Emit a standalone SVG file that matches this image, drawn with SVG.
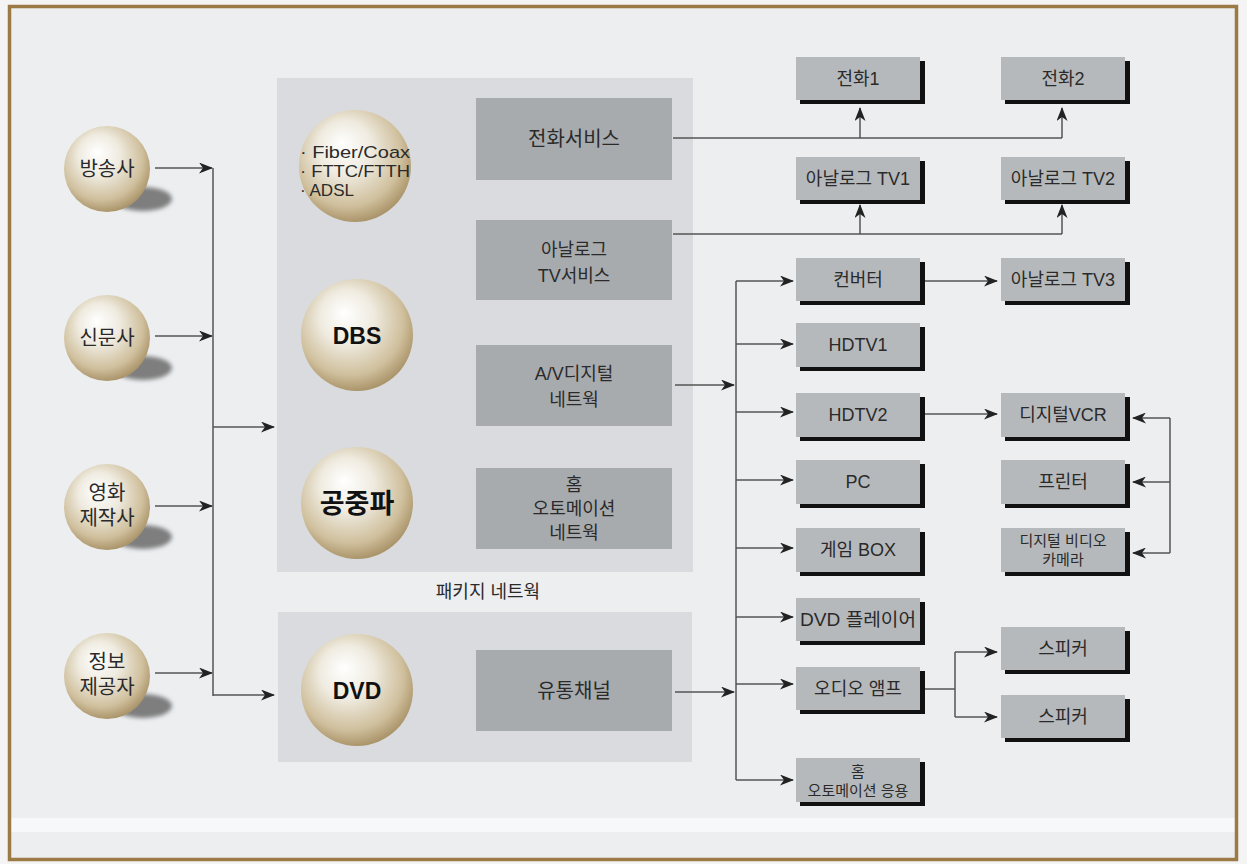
<svg xmlns="http://www.w3.org/2000/svg" width="1247" height="864" viewBox="0 0 1247 864">
<defs>
<radialGradient id="sph" cx="45%" cy="40%" r="60%" fx="38%" fy="30%">
<stop offset="0" stop-color="#ffffff"/>
<stop offset="0.4" stop-color="#efebe0"/>
<stop offset="0.8" stop-color="#cfbf9c"/>
<stop offset="1" stop-color="#ab956b"/>
</radialGradient>
<filter id="blur" x="-30%" y="-50%" width="160%" height="200%"><feGaussianBlur stdDeviation="2"/></filter>
<marker id="ah" viewBox="0 0 14 11" refX="13" refY="5.5" markerWidth="14" markerHeight="11" markerUnits="userSpaceOnUse" orient="auto">
<path d="M0,0 L14,5.5 L0,11 L4,5.5 z" fill="#222"/>
</marker>
<style>
.bg{fill:#eceef0}
.frame{fill:none;stroke:#9b7a45;stroke-width:3.5}
.panel{fill:#d9dbde}
.pbox{fill:#a8abae}
.sbox{fill:#b6b9bc}
.shadow{fill:#111}
.ln{fill:none;stroke:#555;stroke-width:1.5}
.arr{fill:none;stroke:#555;stroke-width:1.5;marker-end:url(#ah)}
.t{font-family:"Liberation Sans","Noto Sans CJK KR",sans-serif;fill:#2a2a2a;text-anchor:middle}
.s17{font-size:17px}
.s18{font-size:18px}
.s15{font-size:15px}
.s20{font-size:20px}
.b{font-weight:bold;fill:#111}
.sph{fill:url(#sph)}
.shd{fill:#7e7e7e;filter:url(#blur)}
</style>
</defs>
<rect x="0" y="0" width="1247" height="864" fill="#f4f4f4"/>
<rect class="bg" x="10" y="7" width="1226" height="852"/>
<rect x="10" y="818" width="1226" height="14" fill="#f7f8f9"/>
<rect class="frame" x="9.5" y="6.5" width="1227" height="853"/>

<g id="panel-package">
<rect class="panel" x="277" y="78" width="416" height="494"/>
<text class="t s18" x="488" y="598">패키지 네트웍</text>
</g>
<g id="panel-dvd">
<rect class="panel" x="278" y="612" width="414" height="150"/>
</g>

<g id="connectors">
<line class="arr" x1="155" y1="168" x2="212" y2="168"/>
<line class="arr" x1="155" y1="336" x2="212" y2="336"/>
<line class="arr" x1="155" y1="506" x2="212" y2="506"/>
<line class="arr" x1="155" y1="673" x2="212" y2="673"/>
<line class="ln" x1="213" y1="168" x2="213" y2="696"/>
<line class="arr" x1="213" y1="427" x2="274" y2="427"/>
<line class="arr" x1="213" y1="695" x2="274" y2="695"/>

<polyline class="ln" points="673,138 1062,138"/>
<line class="arr" x1="860" y1="138" x2="860" y2="108"/>
<line class="arr" x1="1062" y1="138" x2="1062" y2="108"/>
<polyline class="ln" points="673,234 1062,234"/>
<line class="arr" x1="860" y1="234" x2="860" y2="205"/>
<line class="arr" x1="1062" y1="234" x2="1062" y2="205"/>

<line class="arr" x1="675" y1="385" x2="734" y2="385"/>
<line class="arr" x1="675" y1="692" x2="734" y2="692"/>
<line class="ln" x1="736" y1="281" x2="736" y2="780"/>
<line class="arr" x1="736" y1="281" x2="793" y2="281"/>
<line class="arr" x1="736" y1="344" x2="793" y2="344"/>
<line class="arr" x1="736" y1="412" x2="793" y2="412"/>
<line class="arr" x1="736" y1="480" x2="793" y2="480"/>
<line class="arr" x1="736" y1="548" x2="793" y2="548"/>
<line class="arr" x1="736" y1="617" x2="793" y2="617"/>
<line class="arr" x1="736" y1="684" x2="793" y2="684"/>
<line class="arr" x1="736" y1="780" x2="793" y2="780"/>

<line class="arr" x1="925" y1="281" x2="997" y2="281"/>
<line class="arr" x1="925" y1="414" x2="997" y2="414"/>

<polyline class="ln" points="925,689 955,689"/>
<line class="ln" x1="955" y1="652" x2="955" y2="717"/>
<line class="arr" x1="955" y1="652" x2="997" y2="652"/>
<line class="arr" x1="955" y1="717" x2="997" y2="717"/>

<line class="ln" x1="1170" y1="418" x2="1170" y2="553"/>
<line class="arr" x1="1170" y1="418" x2="1133" y2="418"/>
<line class="arr" x1="1170" y1="482" x2="1133" y2="482"/>
<line class="arr" x1="1170" y1="553" x2="1133" y2="553"/>
</g>

<g id="src-broadcast">
<ellipse class="shd" cx="143" cy="199" rx="29" ry="12"/>
<circle class="sph" cx="107" cy="169" r="43"/>
<text class="t s20" x="107" y="176">방송사</text>
</g>
<g id="src-newspaper">
<ellipse class="shd" cx="143" cy="368" rx="29" ry="12"/>
<circle class="sph" cx="107" cy="338" r="43"/>
<text class="t s20" x="107" y="345">신문사</text>
</g>
<g id="src-film">
<ellipse class="shd" cx="143" cy="537" rx="29" ry="12"/>
<circle class="sph" cx="107" cy="507" r="43"/>
<text class="t s20" x="107" y="500">영화</text>
<text class="t s20" x="107" y="525">제작사</text>
</g>
<g id="src-info">
<ellipse class="shd" cx="143" cy="706" rx="29" ry="12"/>
<circle class="sph" cx="107" cy="676" r="43"/>
<text class="t s20" x="107" y="669">정보</text>
<text class="t s20" x="107" y="694">제공자</text>
</g>

<g id="net-fiber">
<circle class="sph" cx="355" cy="166" r="56"/>
<text class="t" x="300" y="158" style="text-anchor:start;font-size:17px" textLength="110" lengthAdjust="spacingAndGlyphs">· Fiber/Coax</text>
<text class="t" x="300" y="177" style="text-anchor:start;font-size:17px" textLength="110" lengthAdjust="spacingAndGlyphs">· FTTC/FTTH</text>
<text class="t" x="300" y="196" style="text-anchor:start;font-size:17px" textLength="54" lengthAdjust="spacingAndGlyphs">· ADSL</text>
</g>
<g id="net-dbs">
<circle class="sph" cx="357" cy="335" r="56"/>
<text class="t b" x="357" y="344" font-size="23">DBS</text>
</g>
<g id="net-air">
<circle class="sph" cx="357" cy="503" r="56"/>
<text class="t b" x="357" y="513" font-size="27">공중파</text>
</g>
<g id="net-dvd">
<circle class="sph" cx="357" cy="690" r="56"/>
<text class="t b" x="357" y="699" font-size="23">DVD</text>
</g>

<g id="svc-phone">
<rect class="pbox" x="476" y="98" width="196" height="82"/>
<text class="t s20" x="574" y="146">전화서비스</text>
</g>
<g id="svc-analog">
<rect class="pbox" x="476" y="220" width="196" height="80"/>
<text class="t s18" x="574" y="256">아날로그</text>
<text class="t s18" x="574" y="282">TV서비스</text>
</g>
<g id="svc-av">
<rect class="pbox" x="476" y="345" width="196" height="81"/>
<text class="t s18" x="574" y="380">A/V디지털</text>
<text class="t s18" x="574" y="406">네트웍</text>
</g>
<g id="svc-home">
<rect class="pbox" x="476" y="468" width="196" height="81"/>
<text class="t s18" x="574" y="491">홈</text>
<text class="t s18" x="574" y="515">오토메이션</text>
<text class="t s18" x="574" y="539">네트웍</text>
</g>
<g id="svc-dist">
<rect class="pbox" x="476" y="650" width="196" height="81"/>
<text class="t s20" x="574" y="698">유통채널</text>
</g>

<g id="dev-phone1">
<rect class="shadow" x="800" y="61" width="125" height="43"/>
<rect class="sbox" x="796" y="57" width="124" height="43"/>
<text class="t s18" x="858" y="85">전화1</text>
</g>
<g id="dev-phone2">
<rect class="shadow" x="1005" y="61" width="125" height="43"/>
<rect class="sbox" x="1001" y="57" width="124" height="43"/>
<text class="t s18" x="1063" y="85">전화2</text>
</g>
<g id="dev-atv1">
<rect class="shadow" x="800" y="161" width="125" height="43"/>
<rect class="sbox" x="796" y="157" width="124" height="43"/>
<text class="t s18" x="858" y="185">아날로그 TV1</text>
</g>
<g id="dev-atv2">
<rect class="shadow" x="1005" y="161" width="125" height="43"/>
<rect class="sbox" x="1001" y="157" width="124" height="43"/>
<text class="t s18" x="1063" y="185">아날로그 TV2</text>
</g>
<g id="dev-converter">
<rect class="shadow" x="800" y="262" width="125" height="43"/>
<rect class="sbox" x="796" y="258" width="124" height="43"/>
<text class="t s18" x="858" y="286">컨버터</text>
</g>
<g id="dev-atv3">
<rect class="shadow" x="1005" y="262" width="125" height="43"/>
<rect class="sbox" x="1001" y="258" width="124" height="43"/>
<text class="t s18" x="1063" y="286">아날로그 TV3</text>
</g>
<g id="dev-hdtv1">
<rect class="shadow" x="800" y="327" width="125" height="44"/>
<rect class="sbox" x="796" y="323" width="124" height="44"/>
<text class="t s18" x="858" y="351">HDTV1</text>
</g>
<g id="dev-hdtv2">
<rect class="shadow" x="800" y="397" width="125" height="44"/>
<rect class="sbox" x="796" y="393" width="124" height="44"/>
<text class="t s18" x="858" y="421">HDTV2</text>
</g>
<g id="dev-pc">
<rect class="shadow" x="800" y="464" width="125" height="44"/>
<rect class="sbox" x="796" y="460" width="124" height="44"/>
<text class="t s18" x="858" y="488">PC</text>
</g>
<g id="dev-game">
<rect class="shadow" x="800" y="532" width="125" height="44"/>
<rect class="sbox" x="796" y="528" width="124" height="44"/>
<text class="t s18" x="858" y="556">게임 BOX</text>
</g>
<g id="dev-dvdplayer">
<rect class="shadow" x="800" y="602" width="125" height="43"/>
<rect class="sbox" x="796" y="598" width="124" height="43"/>
<text class="t s18" x="858" y="626" textLength="116" lengthAdjust="spacingAndGlyphs">DVD 플레이어</text>
</g>
<g id="dev-amp">
<rect class="shadow" x="800" y="671" width="125" height="43"/>
<rect class="sbox" x="796" y="667" width="124" height="43"/>
<text class="t s18" x="858" y="695">오디오 앰프</text>
</g>
<g id="dev-homeapp">
<rect class="shadow" x="800" y="762" width="125" height="44"/>
<rect class="sbox" x="796" y="758" width="124" height="44"/>
<text class="t s15" x="858" y="777">홈</text>
<text class="t s15" x="858" y="796">오토메이션 응용</text>
</g>
<g id="dev-vcr">
<rect class="shadow" x="1005" y="397" width="125" height="44"/>
<rect class="sbox" x="1001" y="393" width="124" height="44"/>
<text class="t s18" x="1063" y="421">디지털VCR</text>
</g>
<g id="dev-printer">
<rect class="shadow" x="1005" y="464" width="125" height="44"/>
<rect class="sbox" x="1001" y="460" width="124" height="44"/>
<text class="t s18" x="1063" y="488">프린터</text>
</g>
<g id="dev-camera">
<rect class="shadow" x="1005" y="532" width="125" height="44"/>
<rect class="sbox" x="1001" y="528" width="124" height="44"/>
<text class="t s15" x="1063" y="546">디지털 비디오</text>
<text class="t s15" x="1063" y="565">카메라</text>
</g>
<g id="dev-speaker1">
<rect class="shadow" x="1005" y="631" width="125" height="43"/>
<rect class="sbox" x="1001" y="627" width="124" height="43"/>
<text class="t s18" x="1063" y="655">스피커</text>
</g>
<g id="dev-speaker2">
<rect class="shadow" x="1005" y="699" width="125" height="43"/>
<rect class="sbox" x="1001" y="695" width="124" height="43"/>
<text class="t s18" x="1063" y="723">스피커</text>
</g>
</svg>
